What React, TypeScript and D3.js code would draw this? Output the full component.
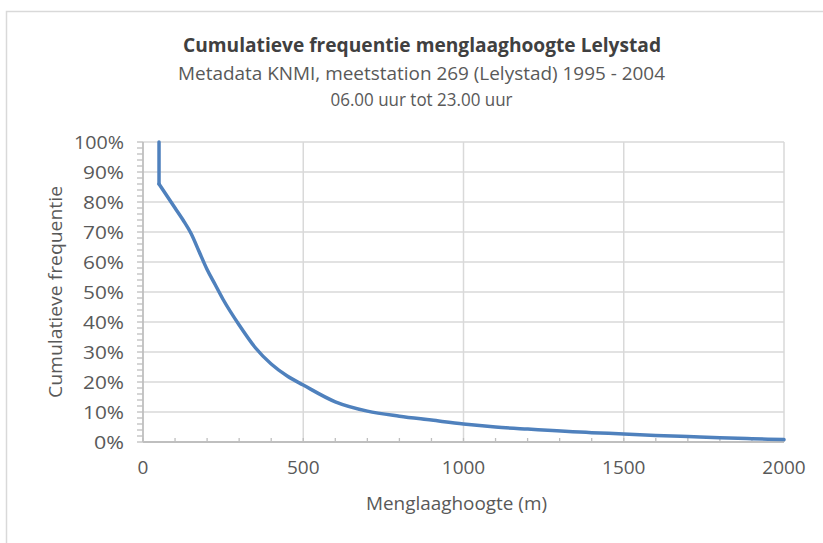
import React from "react";
import * as d3 from "d3";

const heights = [50, 50, 100, 125, 150, 175, 200, 225, 250, 300, 350, 400, 450, 500, 600, 700, 800, 900, 1000, 1100, 1200, 1400, 1500, 1600, 1700, 1800, 1900, 2000];
const cumFreq = [100, 86, 78, 74, 69.5, 63.5, 57.5, 52.5, 47.5, 39, 31.5, 26, 22, 19, 13.4, 10.3, 8.6, 7.3, 6.0, 5.0, 4.3, 3.1, 2.7, 2.2, 1.8, 1.4, 1.1, 0.8];
const xTicks = [0, 500, 1000, 1500, 2000];
const yTicks = [0, 10, 20, 30, 40, 50, 60, 70, 80, 90, 100];
const titleLines = [
  "Cumulatieve frequentie menglaaghoogte Lelystad",
  "Metadata KNMI, meetstation 269 (Lelystad) 1995 - 2004",
  "06.00 uur tot 23.00 uur",
];
const xTitle = "Menglaaghoogte (m)";
const yTitle = "Cumulatieve frequentie";

export default function App() {
  const W = 823, H = 543;
  const x = d3.scaleLinear().domain([0, 2000]).range([143, 784]);
  const y = d3.scaleLinear().domain([0, 100]).range([442, 142]);
  const pts: [number, number][] = heights.map((h, i) => [x(h), y(cumFreq[i])]);
  const vertical = d3.line()(pts.slice(0, 2)) || "";
  const curve = d3.line().curve(d3.curveMonotoneX)(pts.slice(1)) || "";
  const font = "'Open Sans', sans-serif";
  const minorX = d3.range(0, 2001, 100);
  const minorY = d3.range(0, 101, 2);
  return (
    <svg width={W} height={H} style={{ position: "absolute", left: 0, top: 0, background: "#fff" }}>
      <rect x={6.5} y={11.5} width={W + 20} height={H + 20} fill="#fff" stroke="#d9d9d9" strokeWidth={1.5} />
      {yTicks.filter((t) => t > 0).map((t) => (
        <line key={"gy" + t} x1={x(0)} x2={x(2000)} y1={y(t)} y2={y(t)} stroke="#d9d9d9" strokeWidth={1.5} />
      ))}
      {xTicks.filter((t) => t > 0).map((t) => (
        <line key={"gx" + t} x1={x(t)} x2={x(t)} y1={y(0)} y2={y(100)} stroke="#d9d9d9" strokeWidth={1.5} />
      ))}
      {minorY.map((t) => (
        <line key={"my" + t} x1={x(0) - 6} x2={x(0)} y1={y(t)} y2={y(t)} stroke="#bfbfbf" strokeWidth={1.3} />
      ))}
      {minorX.map((t) => (
        <line key={"mx" + t} x1={x(t)} x2={x(t)} y1={y(0) - 4} y2={y(0)} stroke="#bfbfbf" strokeWidth={1.3} />
      ))}
      <line x1={x(0)} x2={x(0)} y1={y(0)} y2={y(100)} stroke="#bfbfbf" strokeWidth={1.8} />
      <line x1={x(0)} x2={x(2000)} y1={y(0)} y2={y(0)} stroke="#bfbfbf" strokeWidth={1.8} />
      <path d={vertical} fill="none" stroke="#4f81bd" strokeWidth={3.5} strokeLinecap="round" />
      <path d={curve} fill="none" stroke="#4f81bd" strokeWidth={3.5} strokeLinejoin="round" strokeLinecap="round" />
      {yTicks.map((t) => (
        <text key={"ly" + t} x={124} y={y(t)} dy="0.35em" textAnchor="end" fontFamily={font} fontSize={19} fill="#595959" textLength={t === 100 ? 50 : t === 0 ? 30 : 41} lengthAdjust="spacingAndGlyphs">
          {t + "%"}
        </text>
      ))}
      {xTicks.map((t) => (
        <text key={"lx" + t} x={x(t)} y={474} textAnchor="middle" fontFamily={font} fontSize={19} fill="#595959">
          {t}
        </text>
      ))}
      <text x={422} y={52} textAnchor="middle" fontFamily={font} fontSize={19} fontWeight="bold" fill="#404040" textLength={478} lengthAdjust="spacingAndGlyphs">
        {titleLines[0]}
      </text>
      <text x={421.5} y={80} textAnchor="middle" fontFamily={font} fontSize={19} fill="#595959" textLength={487} lengthAdjust="spacingAndGlyphs">
        {titleLines[1]}
      </text>
      <text x={421.5} y={106} textAnchor="middle" fontFamily={font} fontSize={19} fill="#595959" textLength={182} lengthAdjust="spacingAndGlyphs">
        {titleLines[2]}
      </text>
      <text x={456.5} y={510} textAnchor="middle" fontFamily={font} fontSize={19} fill="#595959" textLength={181} lengthAdjust="spacingAndGlyphs">
        {xTitle}
      </text>
      <text transform="translate(62,292) rotate(-90)" textAnchor="middle" fontFamily={font} fontSize={19} fill="#595959" textLength={212} lengthAdjust="spacingAndGlyphs">
        {yTitle}
      </text>
    </svg>
  );
}
